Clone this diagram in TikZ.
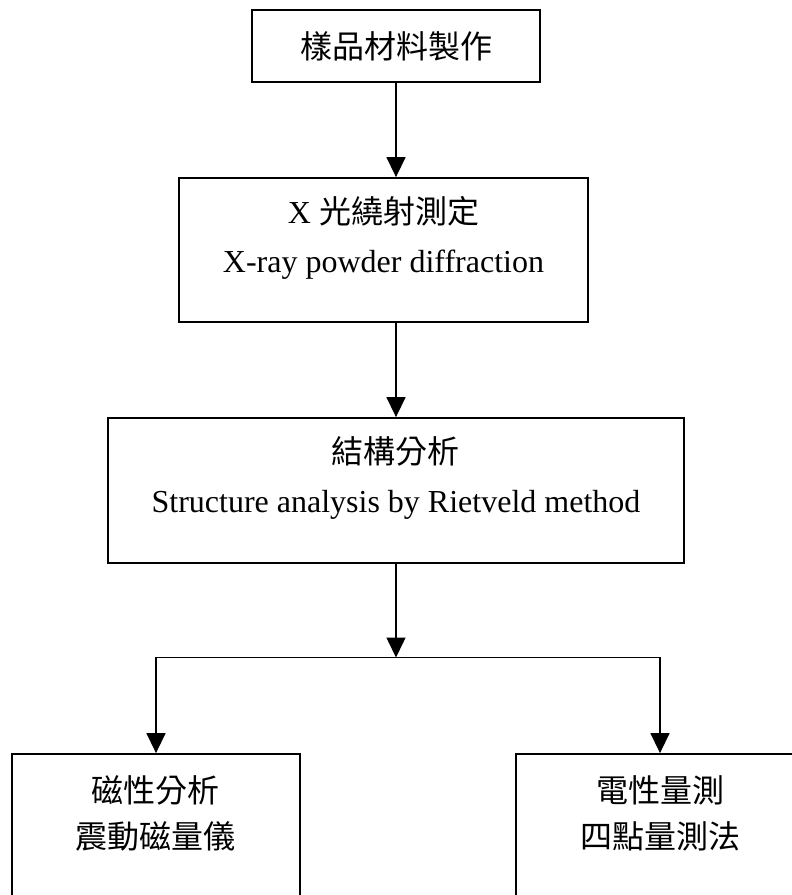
\documentclass[tikz,border=0pt]{standalone}
\usepackage{fontspec}
\setmainfont{Liberation Serif}
\newfontfamily\cjk{Noto Sans CJK TC}
\usetikzlibrary{positioning,arrows.meta}
\newcommand{\boxtext}[4]{\parbox[c][#2][t]{#1}{\centering\rule{0pt}{#3}#4}}
\tikzset{
  stage/.style={draw, line width=1.8pt, inner sep=0pt, font=\fontsize{32}{49}\selectfont},
  arr/.style={-{Triangle[length=20pt,width=19pt]}, line width=1.5pt},
}
\begin{document}
\begin{tikzpicture}
\useasboundingbox (0,0) rectangle (792pt,-895pt);
\node[stage] (prep) at (396pt,-46pt)
  {\parbox[c][72pt][c]{288pt}{\centering\cjk 樣品材料製作}};
\node[stage, below=94.2pt of prep, xshift=-12.5pt] (xrd)
  {\boxtext{409pt}{144pt}{45pt}{X {\cjk 光繞射測定}\\X-ray powder diffraction}};
\node[stage, below=94.2pt of xrd, xshift=12.5pt] (rv)
  {\boxtext{576pt}{145pt}{45pt}{{\cjk 結構分析}\\Structure analysis by Rietveld method}};
\coordinate[below=93.6pt of rv] (split);
\node[stage, below=189.2pt of rv, xshift=-240pt] (mag)
  {\boxtext{288pt}{145pt}{48pt}{\fontsize{32}{46}\selectfont\cjk 磁性分析\\震動磁量儀}};
\node[stage, below=189.2pt of rv, xshift=264pt] (ele)
  {\boxtext{288pt}{145pt}{48pt}{\fontsize{32}{46}\selectfont\cjk 電性量測\\四點量測法}};
\draw[arr] (prep) -- (prep |- xrd.north);
\draw[arr] (rv.north |- xrd.south) -- (rv);
\draw[arr] (rv) -- (split);
\draw[arr] (split) -| (mag);
\draw[arr] (split) -| (ele);
\end{tikzpicture}
\end{document}
